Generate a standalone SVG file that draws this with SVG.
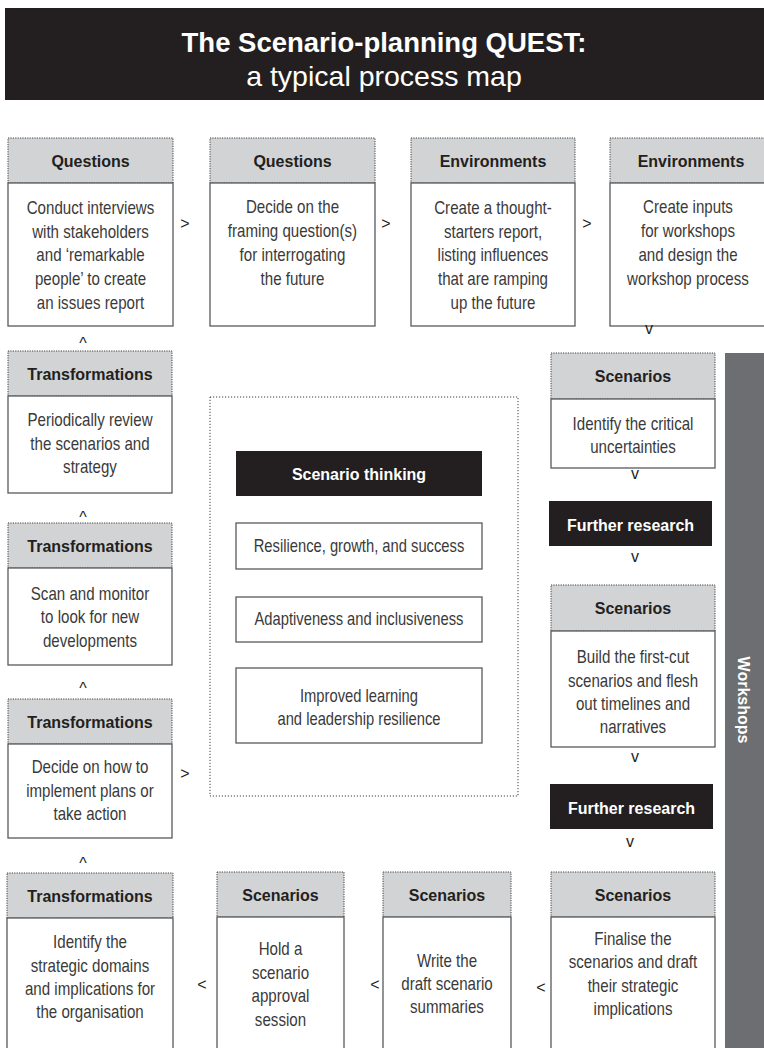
<svg xmlns="http://www.w3.org/2000/svg" width="764" height="1048" viewBox="0 0 764 1048">
<style>
.hd{fill:#d1d3d4;stroke:#414042;stroke-width:1;stroke-dasharray:1.2 1.2}
.bd{fill:#fff;stroke:#58595b;stroke-width:1.3}
.blk{fill:#231f20}
.ht{font-family:"Liberation Sans",Arial,sans-serif;font-weight:bold;font-size:16px;fill:#231f20;text-anchor:middle}
.wt{font-family:"Liberation Sans",Arial,sans-serif;font-weight:bold;font-size:16px;fill:#fff;text-anchor:middle}
.bt{font-family:"Liberation Sans",Arial,sans-serif;font-size:18px;fill:#3a3a3a;text-anchor:middle}
.ar{font-family:"Liberation Sans",Arial,sans-serif;font-size:16px;fill:#231f20;text-anchor:middle}
</style>
<g id="title">
<rect x="5" y="8" width="760" height="92" class="blk"/>
<text x="384" y="52" font-family="Liberation Sans, Arial, sans-serif" font-weight="bold" font-size="27.5" fill="#fff" text-anchor="middle">The Scenario-planning QUEST:</text>
<text x="384" y="86" font-family="Liberation Sans, Arial, sans-serif" font-size="28.5" fill="#fff" text-anchor="middle">a typical process map</text>
</g>
<g id="workshops">
<rect x="725" y="353" width="40" height="700" fill="#6d6e71"/>
<text class="wt" transform="translate(738,700) rotate(90)">Workshops</text>
</g>
<g id="q1">
<rect class="hd" x="8" y="138" width="165" height="45"/>
<rect class="bd" x="8" y="183" width="165" height="143"/>
<text class="ht" x="90.5" y="167">Questions</text>
<text class="bt" transform="matrix(0.84 0 0 1 14.48 0)"><tspan x="90.5" y="214">Conduct interviews</tspan><tspan x="90.5" y="238">with stakeholders</tspan><tspan x="90.5" y="261.5">and ‘remarkable</tspan><tspan x="90.5" y="285">people’ to create</tspan><tspan x="90.5" y="309">an issues report</tspan></text>
</g>
<g id="q2">
<rect class="hd" x="210" y="138" width="165" height="45"/>
<rect class="bd" x="210" y="183" width="165" height="143"/>
<text class="ht" x="292.5" y="167">Questions</text>
<text class="bt" transform="matrix(0.84 0 0 1 46.8 0)"><tspan x="292.5" y="213">Decide on the</tspan><tspan x="292.5" y="237">framing question(s)</tspan><tspan x="292.5" y="261">for interrogating</tspan><tspan x="292.5" y="285">the future</tspan></text>
</g>
<g id="e1">
<rect class="hd" x="411" y="138" width="164" height="45"/>
<rect class="bd" x="411" y="183" width="164" height="143"/>
<text class="ht" x="493" y="167">Environments</text>
<text class="bt" transform="matrix(0.84 0 0 1 78.88 0)"><tspan x="493" y="214">Create a thought-</tspan><tspan x="493" y="238">starters report,</tspan><tspan x="493" y="261.5">listing influences</tspan><tspan x="493" y="285">that are ramping</tspan><tspan x="493" y="309">up the future</tspan></text>
</g>
<g id="e2">
<rect class="hd" x="610" y="138" width="164" height="45"/>
<rect class="bd" x="610" y="183" width="164" height="143"/>
<text class="ht" x="691" y="167">Environments</text>
<text class="bt" transform="matrix(0.84 0 0 1 110.08 0)"><tspan x="688" y="213">Create inputs</tspan><tspan x="688" y="237">for workshops</tspan><tspan x="688" y="261">and design the</tspan><tspan x="688" y="285">workshop process</tspan></text>
</g>
<g id="s1">
<rect class="hd" x="551" y="353" width="164" height="46"/>
<rect class="bd" x="551" y="399" width="164" height="69"/>
<text class="ht" x="633" y="382">Scenarios</text>
<text class="bt" transform="matrix(0.84 0 0 1 101.28 0)"><tspan x="633" y="430">Identify the critical</tspan><tspan x="633" y="453">uncertainties</tspan></text>
</g>
<g id="fr1">
<rect class="blk" x="549" y="501" width="163" height="45"/>
<text class="wt" x="630.5" y="531">Further research</text>
</g>
<g id="s2">
<rect class="hd" x="551" y="585" width="164" height="46"/>
<rect class="bd" x="551" y="631" width="164" height="116"/>
<text class="ht" x="633" y="614">Scenarios</text>
<text class="bt" transform="matrix(0.84 0 0 1 101.28 0)"><tspan x="633" y="663">Build the first-cut</tspan><tspan x="633" y="687">scenarios and flesh</tspan><tspan x="633" y="710">out timelines and</tspan><tspan x="633" y="733">narratives</tspan></text>
</g>
<g id="fr2">
<rect class="blk" x="550" y="784" width="163" height="45"/>
<text class="wt" x="631.5" y="814">Further research</text>
</g>
<g id="s3">
<rect class="hd" x="551" y="872" width="164" height="45"/>
<rect class="bd" x="551" y="917" width="164" height="140"/>
<text class="ht" x="633" y="901">Scenarios</text>
<text class="bt" transform="matrix(0.84 0 0 1 101.28 0)"><tspan x="633" y="945">Finalise the</tspan><tspan x="633" y="968">scenarios and draft</tspan><tspan x="633" y="992">their strategic</tspan><tspan x="633" y="1015">implications</tspan></text>
</g>
<g id="s4">
<rect class="hd" x="383" y="872" width="128" height="45"/>
<rect class="bd" x="383" y="917" width="128" height="140"/>
<text class="ht" x="447" y="901">Scenarios</text>
<text class="bt" transform="matrix(0.84 0 0 1 71.52 0)"><tspan x="447" y="967">Write the</tspan><tspan x="447" y="990">draft scenario</tspan><tspan x="447" y="1013">summaries</tspan></text>
</g>
<g id="s5">
<rect class="hd" x="217" y="872" width="127" height="45"/>
<rect class="bd" x="217" y="917" width="127" height="140"/>
<text class="ht" x="280.5" y="901">Scenarios</text>
<text class="bt" transform="matrix(0.84 0 0 1 44.88 0)"><tspan x="280.5" y="955">Hold a</tspan><tspan x="280.5" y="979">scenario</tspan><tspan x="280.5" y="1002">approval</tspan><tspan x="280.5" y="1026">session</tspan></text>
</g>
<g id="t4">
<rect class="hd" x="7" y="873" width="166" height="45"/>
<rect class="bd" x="7" y="918" width="166" height="140"/>
<text class="ht" x="90" y="902">Transformations</text>
<text class="bt" transform="matrix(0.84 0 0 1 14.4 0)"><tspan x="90" y="948">Identify the</tspan><tspan x="90" y="972">strategic domains</tspan><tspan x="90" y="995">and implications for</tspan><tspan x="90" y="1018">the organisation</tspan></text>
</g>
<g id="t3">
<rect class="hd" x="8" y="699" width="164" height="45"/>
<rect class="bd" x="8" y="744" width="164" height="94"/>
<text class="ht" x="90" y="728">Transformations</text>
<text class="bt" transform="matrix(0.84 0 0 1 14.4 0)"><tspan x="90" y="773">Decide on how to</tspan><tspan x="90" y="797">implement plans or</tspan><tspan x="90" y="820">take action</tspan></text>
</g>
<g id="t2">
<rect class="hd" x="8" y="523" width="164" height="45"/>
<rect class="bd" x="8" y="568" width="164" height="97"/>
<text class="ht" x="90" y="552">Transformations</text>
<text class="bt" transform="matrix(0.84 0 0 1 14.4 0)"><tspan x="90" y="600">Scan and monitor</tspan><tspan x="90" y="623">to look for new</tspan><tspan x="90" y="647">developments</tspan></text>
</g>
<g id="t1">
<rect class="hd" x="8" y="351" width="164" height="45"/>
<rect class="bd" x="8" y="396" width="164" height="97"/>
<text class="ht" x="90" y="380">Transformations</text>
<text class="bt" transform="matrix(0.84 0 0 1 14.4 0)"><tspan x="90" y="426">Periodically review</tspan><tspan x="90" y="450">the scenarios and</tspan><tspan x="90" y="473">strategy</tspan></text>
</g>
<g id="center">
<rect x="210" y="397" width="308" height="399" fill="none" stroke="#414042" stroke-width="1" stroke-dasharray="1.2 1.8"/>
<rect class="blk" x="236" y="451" width="246" height="45"/>
<text class="wt" x="359" y="480">Scenario thinking</text>
<rect class="bd" x="236" y="523" width="246" height="46"/>
<rect class="bd" x="236" y="597" width="246" height="45"/>
<rect class="bd" x="236" y="668" width="246" height="75"/>
<g transform="matrix(0.82 0 0 1 64.62 0)">
<text class="bt" x="359" y="552">Resilience, growth, and success</text>
<text class="bt" x="359" y="625">Adaptiveness and inclusiveness</text>
<text class="bt"><tspan x="359" y="702">Improved learning</tspan><tspan x="359" y="725">and leadership resilience</tspan></text>
</g>
</g>
<g id="connectors">
<text class="ar" x="185" y="229">&gt;</text>
<text class="ar" x="386" y="229">&gt;</text>
<text class="ar" x="587" y="229">&gt;</text>
<text class="ar" x="649" y="334">v</text>
<text class="ar" x="635" y="479">v</text>
<text class="ar" x="635" y="562">v</text>
<text class="ar" x="635" y="762">v</text>
<text class="ar" x="630" y="847">v</text>
<text class="ar" x="541" y="993">&lt;</text>
<text class="ar" x="375" y="990">&lt;</text>
<text class="ar" x="202" y="990">&lt;</text>
<text class="ar" x="83" y="869">^</text>
<text class="ar" x="185" y="779">&gt;</text>
<text class="ar" x="83" y="694">^</text>
<text class="ar" x="83" y="523">^</text>
<text class="ar" x="83" y="349">^</text>
</g>
</svg>
